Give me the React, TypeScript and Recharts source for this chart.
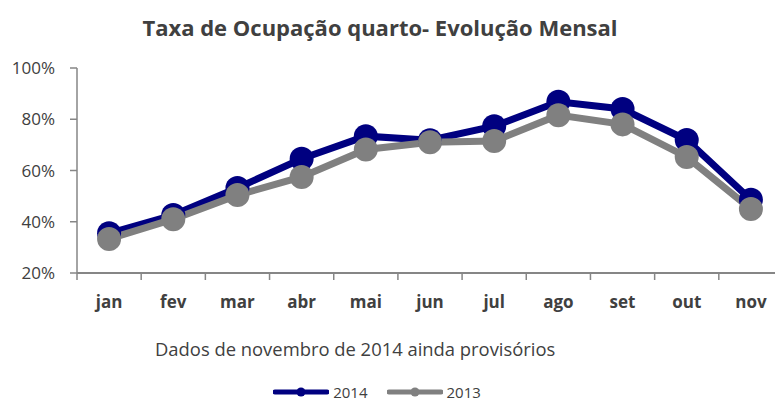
import { LineChart, Line, XAxis, YAxis } from "recharts"

const months = ["jan", "fev", "mar", "abr", "mai", "jun", "jul", "ago", "set", "out", "nov"]
const occ2014 = [35.5, 42.6, 53.2, 64.6, 73.4, 71.8, 77.3, 86.8, 84, 71.9, 48.6]
const occ2013 = [33.3, 41, 50.4, 57.5, 68.2, 71, 71.5, 81.6, 78, 65.3, 45]
const yTicks = [20, 40, 60, 80, 100]
const series = [
  { key: "y2014", name: "2014", color: "#000080" },
  { key: "y2013", name: "2013", color: "#808080" },
]

const data = months.map((m, i) => ({ month: m, y2014: occ2014[i], y2013: occ2013[i] }))

const FONT = "'Open Sans', sans-serif"
const TEXT = "#404040"
const AXIS = "#868686"
const CHART_W = 790
const PLOT_L = 77
const PLOT_R = 783
const BAND = (PLOT_R - PLOT_L) / months.length

// ticks sit on the category boundaries, like the original spreadsheet chart
function MonthTick(props: any) {
  const { x, y, payload } = props
  return (
    <g>
      <line x1={x - BAND / 2} x2={x - BAND / 2} y1={y} y2={y + 7} stroke={AXIS} strokeWidth={1.5} />
      <text x={x} y={y + 35} textAnchor="middle" fill={TEXT} fontSize={17} fontWeight={700} fontFamily={FONT}>
        {payload.value}
      </text>
    </g>
  )
}

export default function App() {
  return (
    <div style={{ position: "absolute", left: 0, top: 0, width: 775, height: 401, overflow: "hidden", background: "#fff" }}>
      <div
        style={{
          position: "absolute",
          left: 0,
          top: 12,
          width: 775,
          textAlign: "center",
          fontFamily: FONT,
          fontSize: 22,
          fontWeight: 700,
          color: TEXT,
          paddingRight: 15,
          boxSizing: "border-box",
          whiteSpace: "nowrap",
        }}
      >
        Taxa de Ocupação quarto- Evolução Mensal
      </div>
      <div
        style={{
          position: "absolute",
          left: 155,
          top: 336,
          fontFamily: FONT,
          fontSize: 18.4,
          color: TEXT,
          whiteSpace: "nowrap",
        }}
      >
        Dados de novembro de 2014 ainda provisórios
      </div>
      <div
        style={{
          position: "absolute",
          left: 0,
          top: 382,
          width: 775,
          display: "flex",
          justifyContent: "center",
          gap: 19,
          fontFamily: FONT,
          fontSize: 15,
          color: TEXT,
          paddingRight: 21,
          boxSizing: "border-box",
        }}
      >
        {series.map((s) => (
          <div key={s.key} style={{ display: "flex", alignItems: "center", gap: 4 }}>
            <svg width={56} height={10}>
              <line x1={2} x2={54} y1={5} y2={5} stroke={s.color} strokeWidth={5} strokeLinecap="round" />
              <circle cx={28} cy={5} r={4.5} fill={s.color} />
            </svg>
            <span>{s.name}</span>
          </div>
        ))}
      </div>
      <LineChart
        width={CHART_W}
        height={401}
        data={data}
        margin={{ top: 68, right: CHART_W - PLOT_R, bottom: 98, left: 0 }}
      >
        <XAxis
          dataKey="month"
          tick={<MonthTick />}
          tickLine={false}
          tickSize={0}
          tickMargin={0}
          axisLine={{ stroke: AXIS, strokeWidth: 2 }}
          padding={{ left: BAND / 2, right: BAND / 2 }}
          interval={0}
        />
        <YAxis
          width={PLOT_L}
          domain={[20, 100]}
          ticks={yTicks}
          tickFormatter={(v: number) => `${v}%`}
          tick={{ fill: TEXT, fontSize: 17, fontFamily: FONT }}
          tickSize={7}
          tickMargin={15}
          tickLine={{ stroke: AXIS, strokeWidth: 1.5 }}
          axisLine={{ stroke: AXIS, strokeWidth: 1.5 }}
        />
        {series.map((s) => (
          <Line
            key={s.key}
            dataKey={s.key}
            name={s.name}
            stroke={s.color}
            strokeWidth={7}
            dot={{ r: 12, fill: s.color, stroke: "none" }}
            activeDot={false}
            isAnimationActive={false}
          />
        ))}
      </LineChart>
    </div>
  )
}
